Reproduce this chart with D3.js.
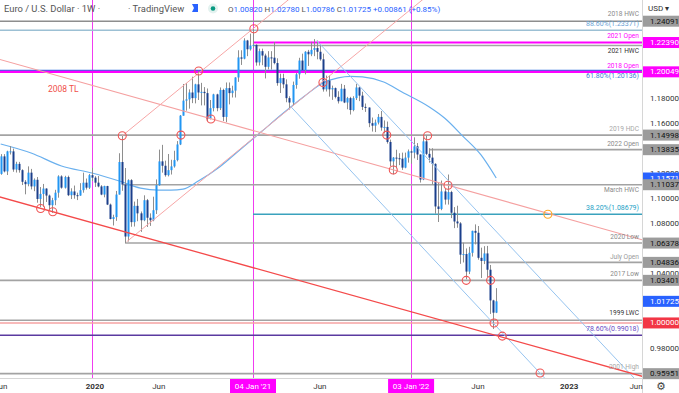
<!DOCTYPE html>
<html><head><meta charset="utf-8">
<script src="https://cdn.jsdelivr.net/npm/d3@7"></script>
<style>
html,body{margin:0;padding:0;background:#fff;overflow:hidden}
svg{display:block;font-family:Roboto,"Noto Sans",sans-serif}
</style></head><body>
<svg id="c" width="679" height="393"></svg>
<script>
// ---------- DATA ----------
const firstWeek = "2019-06-03";   // weekly bars, one per week from here
const opens = [
 1.1190,1.1330,1.1210,1.1370,1.1370,1.1225,1.1270,1.1220,1.1127,1.1108,
 1.1200,1.1090,1.1143,1.0990,1.1030,1.1073,1.1017,1.0940,1.0980,1.1040,
 1.1170,1.1080,1.1165,1.1020,1.1050,1.1020,1.1017,1.1060,1.1120,1.1080,
 1.1180,1.1160,1.1120,1.1090,1.1025,1.1093,1.0945,1.0830,1.0845,1.1025,
 1.1285,1.1105,1.0690,1.1140,1.0805,1.0935,1.0875,1.0820,1.0980,1.0840,
 1.0820,1.0900,1.1100,1.1290,1.1255,1.1180,1.1220,1.1250,1.1300,1.1425,
 1.1655,1.1775,1.1785,1.1840,1.1795,1.1905,1.1840,1.1845,1.1835,1.1630,
 1.1715,1.1825,1.1715,1.1860,1.1645,1.1875,1.1835,1.1855,1.1960,1.2120,
 1.2110,1.2255,1.2185,1.2215,1.2220,1.2080,1.2170,1.2135,1.2045,1.2120,
 1.2118,1.2075,1.1915,1.1955,1.1905,1.1795,1.1760,1.1900,1.1985,1.2095,
 1.2020,1.2165,1.2145,1.2180,1.2195,1.2165,1.2105,1.1865,1.1935,1.1865,
 1.1875,1.1805,1.1770,1.1870,1.1760,1.1795,1.1700,1.1795,1.1880,1.1815,
 1.1725,1.1720,1.1595,1.1575,1.1600,1.1645,1.1560,1.1565,1.1445,1.1290,
 1.1320,1.1315,1.1312,1.1240,1.1320,1.1370,1.1360,1.1410,1.1345,1.1145,
 1.1450,1.1350,1.1320,1.1270,1.0930,1.0910,1.1050,1.0985,1.1045,1.0880,
 1.0810,1.0795,1.0545,1.0550,1.0410,1.0560,1.0735,1.0720,1.0520,1.0495,
 1.0555,1.0425,1.0180,1.0082];
const highs = [
 1.1348,1.1348,1.1375,1.1412,1.1392,1.1287,1.1286,1.1227,1.1141,1.1250,
 1.1230,1.1154,1.1165,1.1085,1.1110,1.1075,1.1025,1.0999,1.1063,1.1179,
 1.1179,1.1175,1.1176,1.1075,1.1097,1.1040,1.1116,1.1200,1.1153,1.1190,
 1.1239,1.1172,1.1173,1.1100,1.1096,1.1095,1.0953,1.0864,1.1054,1.1355,
 1.1495,1.1237,1.1147,1.1148,1.0969,1.0990,1.0890,1.1019,1.0990,1.0875,
 1.1008,1.1146,1.1384,1.1422,1.1296,1.1349,1.1303,1.1375,1.1452,1.1660,
 1.1908,1.1916,1.1865,1.1966,1.1910,1.2011,1.1917,1.1883,1.1872,1.1780,
 1.1830,1.1830,1.1880,1.1870,1.1920,1.1920,1.1894,1.1962,1.2177,1.2177,
 1.2273,1.2260,1.2310,1.2349,1.2225,1.2190,1.2190,1.2150,1.2170,1.2170,
 1.2243,1.2113,1.1990,1.1990,1.1945,1.1810,1.1927,1.1995,1.2117,1.2150,
 1.2170,1.2180,1.2245,1.2266,1.2255,1.2218,1.2150,1.1975,1.1975,1.1895,
 1.1880,1.1850,1.1909,1.1900,1.1805,1.1805,1.1810,1.1909,1.1885,1.1846,
 1.1752,1.1720,1.1640,1.1624,1.1668,1.1692,1.1617,1.1608,1.1464,1.1325,
 1.1383,1.1355,1.1360,1.1360,1.1385,1.1385,1.1482,1.1436,1.1345,1.1483,
 1.1495,1.1395,1.1395,1.1275,1.1121,1.1137,1.1070,1.1185,1.1055,1.0925,
 1.0936,1.0805,1.0641,1.0595,1.0608,1.0737,1.0787,1.0774,1.0601,1.0613,
 1.0615,1.0463,1.0185,1.0278];
const lows = [
 1.1183,1.1202,1.1181,1.1345,1.1207,1.1201,1.1200,1.1101,1.1027,1.1091,
 1.1066,1.1052,1.0960,1.0926,1.0927,1.0966,1.0905,1.0879,1.0940,1.1000,
 1.1072,1.1073,1.1013,1.0989,1.0992,1.0981,1.1015,1.1040,1.1065,1.1069,
 1.1133,1.1086,1.1083,1.1020,1.1003,1.0941,1.0827,1.0778,1.0815,1.1025,
 1.1055,1.0636,1.0650,1.0768,1.0770,1.0812,1.0727,1.0812,1.0766,1.0775,
 1.0812,1.0870,1.1095,1.1200,1.1168,1.1170,1.1185,1.1240,1.1290,1.1420,
 1.1655,1.1695,1.1711,1.1755,1.1753,1.1780,1.1737,1.1737,1.1612,1.1625,
 1.1689,1.1690,1.1700,1.1612,1.1603,1.1745,1.1800,1.1800,1.1925,1.2060,
 1.2105,1.2130,1.2175,1.2194,1.2054,1.2055,1.2058,1.1952,1.2024,1.2023,
 1.2065,1.1894,1.1836,1.1874,1.1762,1.1704,1.1738,1.1870,1.1950,1.2020,
 1.1985,1.2052,1.2130,1.2130,1.2105,1.2094,1.1847,1.1848,1.1807,1.1781,
 1.1793,1.1752,1.1770,1.1755,1.1706,1.1664,1.1690,1.1780,1.1771,1.1700,
 1.1685,1.1563,1.1528,1.1524,1.1585,1.1535,1.1513,1.1432,1.1251,1.1186,
 1.1235,1.1260,1.1222,1.1235,1.1280,1.1272,1.1314,1.1301,1.1121,1.1140,
 1.1340,1.1280,1.1106,1.0872,1.0806,1.0900,1.0945,1.0945,1.0837,1.0757,
 1.0760,1.0472,1.0483,1.0349,1.0390,1.0530,1.0627,1.0505,1.0359,1.0470,
 1.0365,1.0072,0.9952,1.00786];
const closes = [
 1.1330,1.1210,1.1370,1.1370,1.1225,1.1270,1.1220,1.1127,1.1108,1.1200,
 1.1090,1.1143,1.0990,1.1030,1.1073,1.1017,1.0940,1.0980,1.1040,1.1170,
 1.1080,1.1165,1.1020,1.1050,1.1020,1.1017,1.1060,1.1120,1.1080,1.1180,
 1.1160,1.1120,1.1090,1.1025,1.1093,1.0945,1.0830,1.0845,1.1025,1.1285,
 1.1105,1.0690,1.1140,1.0805,1.0935,1.0875,1.0820,1.0980,1.0840,1.0820,
 1.0900,1.1100,1.1290,1.1255,1.1180,1.1220,1.1250,1.1300,1.1425,1.1655,
 1.1775,1.1785,1.1840,1.1795,1.1905,1.1840,1.1845,1.1835,1.1630,1.1715,
 1.1825,1.1715,1.1860,1.1645,1.1875,1.1835,1.1855,1.1960,1.2120,1.2110,
 1.2255,1.2185,1.2215,1.2220,1.2080,1.2170,1.2135,1.2045,1.2120,1.2118,
 1.2075,1.1915,1.1955,1.1905,1.1795,1.1760,1.1900,1.1985,1.2095,1.2020,
 1.2165,1.2145,1.2180,1.2195,1.2165,1.2105,1.1865,1.1935,1.1865,1.1875,
 1.1805,1.1770,1.1870,1.1760,1.1795,1.1700,1.1795,1.1880,1.1815,1.1725,
 1.1720,1.1595,1.1575,1.1600,1.1645,1.1560,1.1565,1.1445,1.1290,1.1320,
 1.1315,1.1312,1.1240,1.1320,1.1370,1.1360,1.1410,1.1345,1.1145,1.1450,
 1.1350,1.1320,1.1270,1.0930,1.0910,1.1050,1.0985,1.1045,1.0880,1.0810,
 1.0795,1.0545,1.0550,1.0410,1.0560,1.0735,1.0720,1.0520,1.0495,1.0555,
 1.0425,1.0180,1.0082,1.01725];

// moving average
const maDates = ["2019-06-03","2019-08-12","2019-10-21","2019-12-30","2020-03-02","2020-04-20","2020-06-01","2020-06-29","2020-07-27","2020-08-31","2020-10-19","2020-12-07","2021-01-25","2021-03-15","2021-05-03","2021-06-14","2021-07-19","2021-08-16","2021-09-13","2021-11-01","2021-12-13","2022-02-14","2022-03-21","2022-05-02","2022-06-13","2022-07-18"];
const maValues = [1.1429,1.1357,1.1253,1.1197,1.1133,1.1077,1.1061,1.1061,1.1069,1.1133,1.1245,1.1389,1.1532,1.1676,1.1812,1.1916,1.1956,1.1968,1.1964,1.1924,1.1844,1.1724,1.1636,1.1492,1.1341,1.1157];

// horizontal levels
const levelNames  = ["2018 HWC","2021 HWC","2019 HDC","2022 Open","March HWC","2020 Low","July Open","2017 Low","1999 LWC","2001 High"];
const levelPrices = [1.24091,1.2215,1.14998,1.13835,1.11037,1.06378,1.04836,1.03401,1.0021,0.95951];
const levelStarts = ["","2021-01-04","","2022-02-14","2020-03-09","2020-03-16","2022-06-28","","",""];
const openNames  = ["2021 Open","2018 Open"];
const openPrices = [1.22390,1.20049];
const openStarts = ["2021-01-04",""];
const fibNames  = ["88.60%(1.23371)","61.80%(1.20136)","38.20%(1.08679)","78.60%(0.99018)"];
const fibPrices = [1.23371,1.20136,1.08679,0.99018];
const fibStarts = ["","","2021-01-04",""];
const parityPrice = 1.0;

// trendlines [date, price] pairs
const tl2008   = [["2019-06-03",1.1004],["2023-06-12",0.9581]];
const tlDown   = [["2019-06-03",1.2102],["2023-06-12",1.0671]];
const chanUp1  = [["2020-03-09",1.1495],["2021-01-04",1.2349]];
const chanUp2  = [["2020-03-19",1.0648],["2021-06-14",1.1930]];
const chanDn1  = [["2021-05-31",1.2253],["2022-08-15",1.0627]];
const chanDn2  = [["2021-03-31",1.1731],["2022-10-24",0.9610]];

// marked pivots
const pivotDates  = ["2019-09-03","2019-10-01","2020-03-09","2020-07-22","2020-09-01","2020-09-29","2021-01-06","2021-06-14","2021-11-08","2021-11-23","2022-02-10","2022-03-29","2022-05-10","2022-07-05","2022-07-13","2022-08-01","2022-10-27"];
const pivotPrices = [1.0914,1.0888,1.1495,1.1500,1.2011,1.1628,1.2349,1.1920,1.1500,1.1221,1.1495,1.1100,1.0340,1.0340,1.0000,0.9895,0.9600];
const fibPivot = ["2022-11-14",1.0868];

// vertical markers
const vDates = ["2019-12-30","2021-01-04","2022-01-03"];
const vLabels = ["","04 Jan '21","03 Jan '22"];

// axes (ticks that sit fully under a price box are left out)
const yTicks = [0.98,1.04,1.08,1.10,1.12,1.16,1.18];
const xTickDates = ["2019-06-03","2020-01-06","2020-06-01","2021-06-07","2022-06-06","2023-01-02","2023-06-05"];
const xTickLabels = ["Jun","2020","Jun","Jun","Jun","2023","Jun"];
const axisMarkPrices = [1.24091,1.22390,1.20049,1.14998,1.13835,1.11571,1.11037,1.06378,1.04836,1.03401,1.01725,1.00000,0.95951];
const axisMarkKinds  = ["g","m","m","g","g","b","g","g","g","g","b","r","g"];

const legendOHLC = [["O","1.00820"],["H","1.02780"],["L","1.00786"],["C","1.01725"]];
const legendChange = "+0.00861 (+0.85%)";

// ---------- DRAW ----------
const PW = 642, PH = 378;
const parse = d3.timeParse("%Y-%m-%d");
const svg = d3.select("#c");
const x = d3.scaleTime().domain([new Date(2019,5,1,10,24), new Date(2023,5,18,17,0)]).range([0,PW]);
const y = d3.scaleLinear().domain([0.98,1.18]).range([348,97.5]);
const dates = opens.map((_,i)=>d3.timeDay.offset(parse(firstWeek),7*i));

svg.append("defs").append("clipPath").attr("id","clip").append("rect").attr("width",PW).attr("height",PH);
const g = svg.append("g").attr("clip-path","url(#clip)");

// vertical markers
vDates.forEach(d=>{
  const xx = Math.round(x(parse(d)))+0.5;
  g.append("line").attr("x1",xx).attr("x2",xx).attr("y1",0).attr("y2",PH)
    .attr("stroke","#f03cf0").attr("stroke-width",1);
});

// horizontal levels
function hline(price,start,color,width){
  const x0 = start ? x(parse(start)) : 0;
  g.append("line").attr("x1",x0).attr("x2",PW).attr("y1",y(price)).attr("y2",y(price))
    .attr("stroke",color).attr("stroke-width",width);
}
const levelColor = {"2018 HWC":"#8e8e8e"};
levelNames.forEach((n,i)=>hline(levelPrices[i],levelStarts[i],levelColor[n]||"#a3a3a3",1.6));
hline(parityPrice,"", "#f6a3a3",1.5);
const fibLineColor = ["#9cc0d4","#2f6fe0","#3aa2bd","#5a3aa0"];
fibNames.forEach((n,i)=>hline(fibPrices[i],fibStarts[i],fibLineColor[i],i===1?2:1.7));
openNames.forEach((n,i)=>hline(openPrices[i],openStarts[i],"#ff00ff",2.2));

// moving average
const maLine = d3.line().x(d=>x(parse(d[0]))).y(d=>y(d[1])).curve(d3.curveMonotoneX);
g.append("path").attr("d",maLine(maDates.map((d,i)=>[d,maValues[i]])))
  .attr("fill","none").attr("stroke","#6ab0ee").attr("stroke-width",1.2);

// candles
const idx = d3.range(opens.length);
g.append("g").selectAll("line").data(idx).join("line")
  .attr("x1",i=>Math.round(x(dates[i]))+0.5).attr("x2",i=>Math.round(x(dates[i]))+0.5)
  .attr("y1",i=>y(highs[i])).attr("y2",i=>y(lows[i]))
  .attr("stroke","#8e8e8e").attr("stroke-width",1);
g.append("g").selectAll("rect").data(idx).join("rect")
  .attr("x",i=>Math.round(x(dates[i]))-0.5).attr("width",2)
  .attr("y",i=>y(Math.max(opens[i],closes[i])))
  .attr("height",i=>Math.max(1,Math.abs(y(opens[i])-y(closes[i]))))
  .attr("fill",i=>closes[i]>=opens[i]?"#2196f3":"#1b3f8b");

// trend lines
function tline(pts,extL,extR,color,width){
  let x1=x(parse(pts[0][0])),y1=y(pts[0][1]),x2=x(parse(pts[1][0])),y2=y(pts[1][1]);
  const s=(y2-y1)/(x2-x1);
  let xs=x1,ys=y1,xe=x2,ye=y2;
  if(extL){xs=-5;ys=y1+s*(xs-x1);}
  if(extR){xe=PW+5;ye=y1+s*(xe-x1);}
  g.append("line").attr("x1",xs).attr("y1",ys).attr("x2",xe).attr("y2",ye)
    .attr("stroke",color).attr("stroke-width",width);
}
tline(tlDown,true,true,"#f5a0a0",1.1);
tline(chanUp1,false,true,"#f7a6a6",1);
tline(chanUp2,false,true,"#f7a6a6",1);
tline(chanDn1,false,true,"#96c4f0",1);
tline(chanDn2,false,true,"#96c4f0",1);
tline(tl2008,true,true,"#f44a4a",1.3);

// pivot circles
pivotDates.forEach((d,i)=>{
  g.append("circle").attr("cx",x(parse(d))).attr("cy",y(pivotPrices[i])).attr("r",4)
    .attr("fill","none").attr("stroke","#f05555").attr("stroke-width",1.1);
});
g.append("circle").attr("cx",x(parse(fibPivot[0]))).attr("cy",y(fibPivot[1])).attr("r",4)
  .attr("fill","none").attr("stroke","#ffa726").attr("stroke-width",1.2);

// level labels
const lblStyle = {
 "2018 HWC":["#8a8a8a",-7],"2021 HWC":["#333",5.2],"2019 HDC":["#a8a8a8",-5.8],"2022 Open":["#8a8a8a",-5.3],
 "March HWC":["#8a8a8a",5.3],"2020 Low":["#8a8a8a",-5.7],"July Open":["#9a9a9a",-5.7],"2017 Low":["#8a8a8a",-6],
 "1999 LWC":["#333",-7.3],"2001 High":["#a8a8a8",-6.3],
 "2021 Open":["#ff00ff",-6.5],"2018 Open":["#ff00ff",-6],
 "88.60%(1.23371)":["#6aa3d6",-6.3],"61.80%(1.20136)":["#3f80d8",5.2],"38.20%(1.08679)":["#1e9fc6",-6],"78.60%(0.99018)":["#6a4bc4",-5.8]
};
function label(n,price,size){
  const st=lblStyle[n];
  svg.append("text").attr("x",639).attr("y",y(price)+st[1]).attr("text-anchor","end")
    .attr("dominant-baseline","central").attr("font-size",size).attr("fill",st[0]).text(n);
}
levelNames.forEach((n,i)=>label(n,levelPrices[i],6.6));
openNames.forEach((n,i)=>label(n,openPrices[i],6.6));
fibNames.forEach((n,i)=>label(n,fibPrices[i],7));

svg.append("text").attr("x",48).attr("y",89).attr("dominant-baseline","central")
  .attr("font-size",8.5).attr("fill","#f0504a").text("2008 TL");

// right axis
svg.append("rect").attr("x",PW).attr("y",0).attr("width",679-PW).attr("height",393).attr("fill","#fff");
svg.append("line").attr("x1",PW+0.5).attr("x2",PW+0.5).attr("y1",0).attr("y2",393).attr("stroke","#d6d6d6");
svg.append("rect").attr("x",0).attr("y",PH).attr("width",PW).attr("height",393-PH).attr("fill","#fff");
svg.append("line").attr("x1",0).attr("x2",PW).attr("y1",PH+0.5).attr("y2",PH+0.5).attr("stroke","#d6d6d6");

const yAxis = d3.axisRight(y).tickValues(yTicks).tickSize(0).tickPadding(8).tickFormat(d3.format(".5f"));
const ya = svg.append("g").attr("transform",`translate(${PW},0)`).call(yAxis);
ya.select(".domain").remove();
ya.selectAll("text").attr("font-size",8).attr("fill","#333").attr("font-family","Roboto");

const kindBg = {g:"#9c9c9c",m:"#ff00ff",b:"#2962ff",r:"#f23645"};
const kindFg = {g:"#111",m:"#fff",b:"#fff",r:"#fff"};
axisMarkPrices.forEach((p,i)=>{
  const k=axisMarkKinds[i], yy=y(p);
  svg.append("rect").attr("x",PW+1).attr("y",yy-5.5).attr("width",679-PW-1).attr("height",11).attr("fill",kindBg[k]);
  svg.append("text").attr("x",PW+8).attr("y",yy).attr("dominant-baseline","central")
    .attr("font-size",8).attr("fill",kindFg[k]).text(d3.format(".5f")(p));
});
svg.append("text").attr("x",648).attr("y",8).attr("dominant-baseline","central").attr("font-size",8).attr("fill","#333").text("USD ▾");

// bottom axis
xTickDates.forEach((d,i)=>{
  svg.append("text").attr("x",x(parse(d))).attr("y",386).attr("text-anchor","middle")
    .attr("dominant-baseline","central").attr("font-size",8)
    .attr("font-weight",/^\d/.test(xTickLabels[i])?"bold":"normal").attr("fill","#333").text(xTickLabels[i]);
});
vDates.forEach((d,i)=>{
  if(!vLabels[i]) return;
  const xx=x(parse(d));
  svg.append("rect").attr("x",xx-23).attr("y",379).attr("width",46).attr("height",14).attr("fill","#ff00ff");
  svg.append("text").attr("x",xx).attr("y",386).attr("text-anchor","middle").attr("dominant-baseline","central")
    .attr("font-size",8).attr("fill","#fff").text(vLabels[i]);
});
svg.append("text").attr("x",661).attr("y",386).attr("text-anchor","middle").attr("dominant-baseline","central")
  .attr("font-size",11).attr("fill","#444").attr("font-family","DejaVu Sans").text("⚙");

// legend header
svg.append("text").attr("x",4).attr("y",8.5).attr("dominant-baseline","central").attr("font-size",9.4).attr("fill","#555")
  .text("Euro / U.S. Dollar · 1W ·");
svg.append("text").attr("x",128).attr("y",8.5).attr("dominant-baseline","central").attr("font-size",9.4).attr("fill","#555")
  .text("· TradingView");
svg.append("path").attr("d","M192,4 h6 v8 h-6 l2,-4 z").attr("fill","#2962ff");
svg.append("circle").attr("cx",213).attr("cy",8.5).attr("r",5).attr("fill","#e3f2ef");
svg.append("circle").attr("cx",213).attr("cy",8.5).attr("r",2.3).attr("fill","#089981");
const lg = svg.append("text").attr("x",228).attr("y",8.5).attr("dominant-baseline","central").attr("font-size",8);
legendOHLC.forEach((p,i)=>{
  lg.append("tspan").attr("fill","#555").text((i?" ":"")+p[0]);
  lg.append("tspan").attr("fill","#2962ff").text(p[1]);
});
lg.append("tspan").attr("fill","#2962ff").text(" "+legendChange);
</script>
</body></html>
